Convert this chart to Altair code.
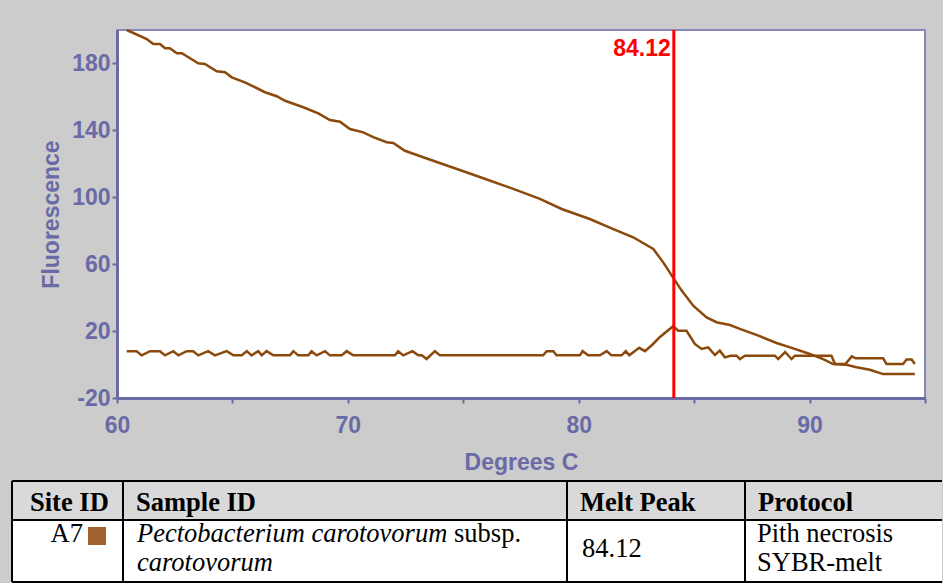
import altair as alt
import pandas as pd

# ---------------- data ----------------
melt_temp = [60.42, 61.29, 61.57, 61.86, 62.08, 62.29, 62.59, 62.81, 63.52, 63.81,
             64.32, 64.68, 64.97, 65.54, 65.90, 66.41, 66.92, 67.28, 68.07, 68.72,
             69.22, 69.66, 70.09, 70.67, 71.10, 71.68, 71.97, 72.47, 73.48, 74.85,
             76.08, 77.31, 78.32, 79.26, 80.48, 81.50, 82.36, 83.23, 83.66, 84.09,
             84.46, 84.96, 85.54, 85.97, 86.55, 86.98, 87.70, 88.57, 89.29, 90.01,
             90.59, 91.02, 91.60, 92.03, 92.61, 93.19, 94.56]
melt_fluor = [200.0, 194.6, 191.6, 191.6, 189.1, 189.1, 186.1, 186.1, 180.1, 179.7,
              175.3, 174.7, 171.7, 168.7, 166.3, 162.8, 160.4, 157.7, 153.8, 150.2,
              146.2, 145.2, 140.8, 138.8, 135.9, 132.9, 132.5, 127.8, 122.9, 116.3,
              110.3, 104.3, 99.0, 93.0, 87.0, 81.0, 76.1, 69.1, 61.1, 52.0,
              44.2, 35.2, 28.2, 25.3, 23.6, 21.3, 17.7, 12.9, 9.7, 6.3,
              3.3, 0.3, -0.1, -1.6, -3.1, -5.7, -5.7]

deriv_temp = [60.42, 60.85, 61.07, 61.43, 61.86, 62.08, 62.44, 62.66, 63.02, 63.30,
              63.52, 63.95, 64.24, 64.75, 65.04, 65.40, 65.62, 65.83, 66.12, 66.27,
              66.48, 66.77, 67.49, 67.64, 67.85, 68.29, 68.43, 68.65, 69.01, 69.22,
              69.73, 69.95, 70.23, 72.04, 72.18, 72.40, 72.80, 73.05, 73.20, 73.41,
              73.77, 73.99, 78.46, 78.61, 78.90, 79.04, 80.05, 80.17, 80.41, 80.92,
              81.21, 81.42, 81.86, 82.04, 82.19, 82.62, 82.87, 83.20, 83.52, 84.09,
              84.31, 84.67, 85.03, 85.32, 85.61, 85.90, 86.11, 86.33, 86.58, 86.84,
              86.98, 87.20, 88.50, 88.64, 88.94, 89.22, 89.36, 90.95, 91.10, 91.55,
              91.83, 92.00, 93.19, 93.33, 94.05, 94.20, 94.42, 94.56]
deriv_fluor = [8.0, 8.0, 5.5, 8.0, 8.0, 5.5, 8.0, 5.5, 8.0, 8.0,
               5.5, 8.0, 5.5, 8.0, 5.5, 5.5, 8.0, 5.5, 8.0, 5.5,
               8.0, 5.5, 5.5, 8.0, 5.5, 5.5, 8.0, 5.5, 8.0, 5.5,
               5.5, 8.0, 5.5, 5.5, 8.0, 5.5, 8.0, 5.5, 5.5, 3.3,
               8.0, 5.5, 5.5, 8.0, 8.0, 5.5, 5.5, 8.0, 5.5, 5.5,
               8.0, 5.5, 5.5, 8.0, 5.5, 10.0, 8.0, 12.0, 16.5, 22.9,
               20.2, 20.2, 12.3, 9.3, 10.3, 5.7, 8.3, 4.3, 5.3, 5.3,
               3.3, 5.3, 5.3, 3.3, 7.5, 3.3, 5.3, 5.3, 0.3, 0.3,
               4.9, 3.7, 3.7, 0.3, 0.3, 3.0, 3.0, 0.3]

peak_temp = [84.12]
peak_label = ["84.12"]

x_domain = [60, 95]
y_domain = [-20, 200]
x_ticks = [60, 65, 70, 75, 80, 85, 90, 95]
y_ticks = [-20, 0, 20, 40, 60, 80, 100, 120, 140, 160, 180]

header_labels = ["Site ID", "Sample ID", "Melt Peak", "Protocol"]
site_id = ["A7"]
sample_italic_1 = ["Pectobacterium carotovorum"]
sample_regular_1 = ["subsp."]
sample_italic_2 = ["carotovorum"]
melt_peak_text = ["84.12"]
protocol_lines = ["Pith necrosis", "SYBR-melt"]

# ---------------- styles ----------------
BROWN = "#8b4a0c"
SWATCH = "#a0632f"
AX = "#6a6aa6"
SANS = "Liberation Sans"
SERIF = "Liberation Serif"

# ---------------- melt chart ----------------
curves = pd.DataFrame({
    "T": melt_temp + deriv_temp,
    "F": melt_fluor + deriv_fluor,
    "series": ["melt"] * len(melt_temp) + ["derivative"] * len(deriv_temp),
})

xscale = alt.Scale(domain=x_domain, nice=False, zero=False)
yscale = alt.Scale(domain=y_domain, nice=False, zero=False)

common_axis = dict(
    grid=False, domainColor=AX, domainWidth=3, tickColor=AX, tickWidth=2, tickSize=5,
    labelFont=SANS, labelFontSize=23, labelFontWeight="bold", labelColor=AX,
    titleFont=SANS, titleFontSize=23, titleFontWeight="bold", titleColor=AX,
    labelFlush=False, labelOverlap=False,
)

x_axis = alt.Axis(values=x_ticks, title="Degrees C",
                  labelExpr="datum.value % 10 == 0 ? toString(datum.value) : ''",
                  labelPadding=11, titlePadding=14, **common_axis)
y_axis = alt.Axis(values=y_ticks, title="Fluorescence",
                  labelExpr="(datum.value + 20) % 40 == 0 ? toString(datum.value) : ''",
                  labelPadding=2, titlePadding=8, **common_axis)

lines = alt.Chart(curves).mark_line(color=BROWN, strokeWidth=2.5).encode(
    x=alt.X("T:Q", scale=xscale, axis=x_axis),
    y=alt.Y("F:Q", scale=yscale, axis=y_axis),
    detail="series:N",
)

peak_df = pd.DataFrame({"T": peak_temp, "label": peak_label, "top": [y_domain[1]]})
rule = alt.Chart(peak_df).mark_rule(color="#ff0000", strokeWidth=3).encode(
    x=alt.X("T:Q", scale=xscale),
)
label = alt.Chart(peak_df).mark_text(
    align="right", baseline="alphabetic", dx=-3, dy=26,
    font=SANS, fontSize=23, fontWeight="bold", color="#ff0000",
).encode(
    x=alt.X("T:Q", scale=xscale),
    y=alt.Y("top:Q", scale=yscale),
    text="label:N",
)

top = alt.layer(lines, rule, label).properties(
    width=808, height=368,
    view=alt.ViewBackground(fill="white", stroke="#8888b8", strokeWidth=2),
)

# ---------------- table ----------------
col_widths = [111, 444, 178, 197]
row_heights = [39, 62]
edges = [0]
for w in col_widths:
    edges.append(edges[-1] + w)
rows = [0]
for h in row_heights:
    rows.append(rows[-1] + h)
head_pads = [18, 13, 13, 13]
pad = 13

tx = alt.Scale(domain=[105, edges[-1]], nice=False, zero=False)
ty = alt.Scale(domain=[0, rows[-1]], nice=False, zero=False, reverse=True)

def X(f):
    return alt.X(f, scale=tx, axis=None)

def Y(f):
    return alt.Y(f, scale=ty, axis=None)

fills = pd.DataFrame({
    "x": [edges[0], edges[0]], "x2": [edges[-1], edges[-1]],
    "y": [rows[0], rows[1]], "y2": [rows[1], rows[2]],
    "fill": ["#d9d9d9", "#ffffff"],
})
cells = alt.Chart(fills).mark_rect().encode(
    x=X("x:Q"), x2="x2:Q", y=Y("y:Q"), y2="y2:Q",
    color=alt.Color("fill:N", scale=None),
)

hlines = [(edges[0], edges[-1], r, r) for r in rows]
vlines = [(e, e, rows[0], rows[-1]) for e in edges[:-1]]
borders = pd.DataFrame(hlines + vlines, columns=["x", "x2", "y", "y2"])
grid = alt.Chart(borders).mark_rule(color="black", strokeWidth=2).encode(
    x=X("x:Q"), x2="x2:Q", y=Y("y:Q"), y2="y2:Q",
)

head_df = pd.DataFrame({"x": [e + p for e, p in zip(edges[:-1], head_pads)],
                        "y": [30] * 4, "t": header_labels})
head = alt.Chart(head_df).mark_text(
    align="left", baseline="alphabetic", font=SERIF, fontSize=26.5,
    fontWeight="bold", color="black",
).encode(x=X("x:Q"), y=Y("y:Q"), text="t:N")

line1_y = rows[1] + 22
line2_y = rows[1] + 51
mid_y = rows[1] + 37

reg_df = pd.DataFrame({
    "x": [edges[1] + pad + 318, edges[2] + pad + 2, edges[3] + pad - 1, edges[3] + pad - 1],
    "y": [line1_y, mid_y, line1_y, line2_y],
    "t": sample_regular_1 + melt_peak_text + protocol_lines,
})
reg = alt.Chart(reg_df).mark_text(
    align="left", baseline="alphabetic", font=SERIF, fontSize=26.5, color="black",
).encode(x=X("x:Q"), y=Y("y:Q"), text="t:N")

ital_df = pd.DataFrame({
    "x": [edges[1] + pad + 1, edges[1] + pad + 1],
    "y": [line1_y, line2_y],
    "t": sample_italic_1 + sample_italic_2,
})
ital = alt.Chart(ital_df).mark_text(
    align="left", baseline="alphabetic", font=SERIF, fontSize=26.5,
    fontStyle="italic", color="black",
).encode(x=X("x:Q"), y=Y("y:Q"), text="t:N")

swatch_size = 18
sw_x = edges[1] - 17 - swatch_size / 2
site_df = pd.DataFrame({"x": [sw_x - swatch_size / 2 - 5], "y": [line1_y], "t": site_id})
site = alt.Chart(site_df).mark_text(
    align="right", baseline="alphabetic", font=SERIF, fontSize=26.5, color="black",
).encode(x=X("x:Q"), y=Y("y:Q"), text="t:N")

sw_df = pd.DataFrame({"x": [sw_x], "y": [line1_y - 6]})
swatch = alt.Chart(sw_df).mark_square(
    size=swatch_size * swatch_size, color=SWATCH, opacity=1, filled=True,
).encode(x=X("x:Q"), y=Y("y:Q"))

table = alt.layer(cells, grid, head, reg, ital, site, swatch).properties(
    width=edges[-1] - 105, height=rows[-1],
)

chart = alt.vconcat(top, table, spacing=83, bounds="flush").properties(
    background="#cccccc",
    padding={"left": 11, "top": 24, "right": 0, "bottom": 0},
).configure_view(strokeWidth=0)

chart.save("out.html", embed_options={"renderer": "svg", "actions": False})
